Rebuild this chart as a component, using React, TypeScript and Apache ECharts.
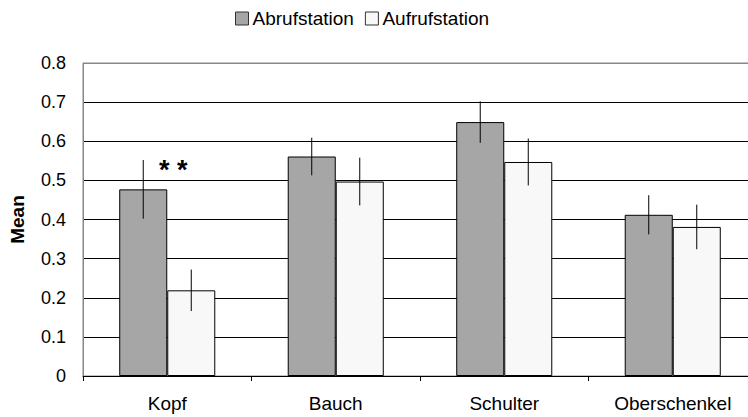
import React, { useEffect, useRef } from "react";
import * as echarts from "echarts";

const categories = ["Kopf", "Bauch", "Schulter", "Oberschenkel"];
const seriesNames = ["Abrufstation", "Aufrufstation"];
const abrufMean = [0.477, 0.561, 0.649, 0.412];
const abrufErr = [0.075, 0.048, 0.053, 0.05];
const aufrufMean = [0.219, 0.497, 0.547, 0.381];
const aufrufErr = [0.053, 0.061, 0.06, 0.057];
const significance = ["* *", "", "", ""];
const significanceY = [0.527, 0, 0, 0];

const FONT = "Liberation Sans, Arial, sans-serif";
const CAT_GAP = 0.43;

export default function App() {
  const ref = useRef<HTMLDivElement>(null);
  useEffect(() => {
    if (!ref.current) return;
    const chart = echarts.init(ref.current, null, { renderer: "svg" });

    const errItem = (seriesIdx: number, means: number[], errs: number[]) =>
      (params: any, api: any) => {
        const i = api.value(0);
        const catW = api.size([1, 0])[0];
        const barW = (catW * (1 - CAT_GAP)) / 2;
        const off = seriesIdx === 0 ? -barW / 2 : barW / 2;
        const top = api.coord([i, means[i] + errs[i]]);
        const bot = api.coord([i, means[i] - errs[i]]);
        return {
          type: "line",
          shape: { x1: top[0] + off, y1: top[1], x2: bot[0] + off, y2: bot[1] },
          style: { stroke: "#000", lineWidth: 1 },
        };
      };

    chart.setOption({
      animation: false,
      textStyle: { fontFamily: FONT },
      legend: {
        left: 230,
        top: 4,
        itemWidth: 13,
        itemHeight: 13,
        itemGap: 11,
        icon: "rect",
        textStyle: { fontSize: 19, color: "#000", fontFamily: FONT, padding: [0, 0, 0, -1] },
        data: seriesNames.map((n) => ({ name: n, itemStyle: { borderColor: "#333", borderWidth: 1 } })),
      },
      grid: {
        left: 81,
        top: 63,
        width: 676,
        height: 313,
        show: true,
        borderColor: "#888",
        borderWidth: 1,
      },
      xAxis: {
        type: "category",
        data: categories,
        axisLine: { lineStyle: { color: "#000", width: 1 } },
        axisTick: { show: true, length: 5, lineStyle: { color: "#000" } },
        axisLabel: { color: "#000", fontSize: 19, margin: 18, fontFamily: FONT },
      },
      yAxis: {
        type: "value",
        min: 0,
        max: 0.8,
        interval: 0.1,
        name: "Mean",
        nameLocation: "middle",
        nameGap: 56,
        nameTextStyle: { fontWeight: "bold", fontSize: 19, color: "#000", fontFamily: FONT },
        axisLine: { show: true, lineStyle: { color: "#888" } },
        axisTick: { show: false },
        axisLabel: {
          color: "#000",
          fontSize: 18,
          margin: 17,
          fontFamily: FONT,
          formatter: (v: number) => (v === 0 ? "0" : v.toFixed(1)),
        },
        splitLine: {
          show: true,
          lineStyle: {
            color: ["#000", "#000", "#000", "#000", "#000", "#000", "#000", "#000", "#888"],
            width: 1,
          },
        },
      },
      series: [
        {
          name: seriesNames[0],
          type: "bar",
          data: abrufMean,
          barGap: "0%",
          barCategoryGap: CAT_GAP * 100 + "%",
          itemStyle: { color: "#a6a6a6", borderColor: "#000", borderWidth: 1 },
        },
        {
          name: seriesNames[1],
          type: "bar",
          data: aufrufMean,
          barGap: "0%",
          barCategoryGap: CAT_GAP * 100 + "%",
          itemStyle: { color: "#f8f8f8", borderColor: "#000", borderWidth: 1 },
        },
        {
          type: "custom",
          name: "errA",
          data: categories.map((_, i) => [i]),
          renderItem: errItem(0, abrufMean, abrufErr),
          z: 5,
          silent: true,
        },
        {
          type: "custom",
          name: "errB",
          data: categories.map((_, i) => [i]),
          renderItem: errItem(1, aufrufMean, aufrufErr),
          z: 5,
          silent: true,
        },
        {
          type: "custom",
          name: "sig",
          data: categories.map((_, i) => [i, significanceY[i]]),
          renderItem: (params: any, api: any) => {
            const i = api.value(0);
            if (!significance[i]) return null;
            const p = api.coord([i, api.value(1)]);
            return {
              type: "text",
              x: p[0] + 6,
              y: p[1],
              style: {
                text: significance[i],
                fontSize: 27,
                fontWeight: "bold",
                fontFamily: FONT,
                fill: "#000",
                align: "center",
                verticalAlign: "middle",
              },
            };
          },
          z: 6,
          silent: true,
        },
      ],
    });
    return () => chart.dispose();
  }, []);
  return (
    <div
      ref={ref}
      style={{ position: "fixed", left: 0, top: 0, width: 760, height: 417, background: "#fff" }}
    />
  );
}
